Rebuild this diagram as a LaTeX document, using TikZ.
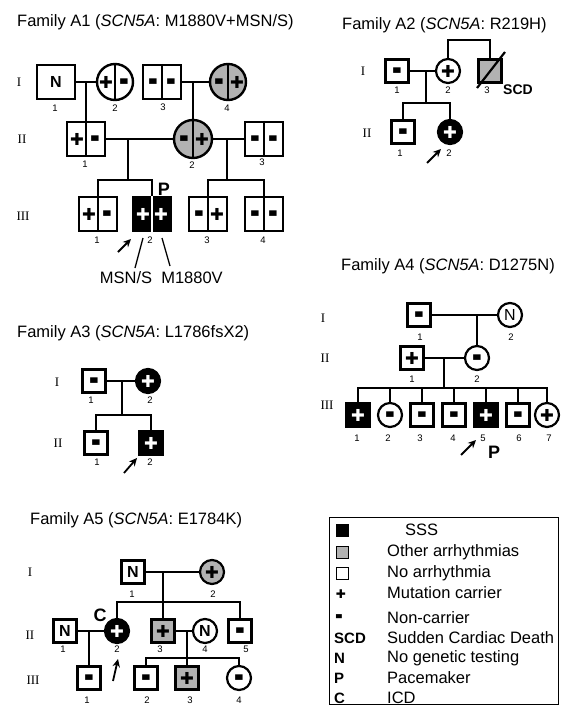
\documentclass[tikz,border=0pt]{standalone}
\usepackage{fontspec}
\setmainfont{Liberation Sans}
\newfontfamily\serifgen{Liberation Serif}
\newfontfamily\djv{DejaVu Sans}
\usepackage{graphicx}
\usetikzlibrary{arrows.meta,calc}
\newcommand\pls{{\djv\fontsize{16.5}{16.5}\selectfont ✚}}
\newcommand\mns{{\djv\fontsize{15}{15}\selectfont\scalebox{0.65}[1]{▬}}}
\newcommand\pdsplit[4]{%
  \draw[line width=1.3pt,#4] (#1.north) -- (#1.south);
  \node[sgn,text=#4] (#1L) at ([xshift=-9pt]#1.center) {#2};
  \node[sgn,text=#4] (#1R) at ([xshift=9pt]#1.center) {#3};}
\begin{document}
\begin{tikzpicture}[x=1pt,y=-1pt,
  ln/.style={line width=2.4pt},
  bsq/.style={draw,line width=2.4pt,rectangle,minimum width=38pt,minimum height=34pt,inner sep=0pt},
  bci/.style={draw,line width=2.4pt,circle,minimum size=36pt,inner sep=0pt},
  ssq/.style={draw,line width=2.2pt,rectangle,minimum size=23pt,inner sep=0pt},
  sci/.style={draw,line width=2.2pt,circle,minimum size=24pt,inner sep=0pt},
  aff/.style={fill=black,text=white},
  oth/.style={fill=black!30},
  sgn/.style={inner sep=0pt},
  num/.style={font=\fontsize{9.5}{9.5}\selectfont,inner sep=0pt},
  gen/.style={font=\serifgen\fontsize{13}{13}\selectfont,inner sep=0pt},
  ttl/.style={font=\fontsize{16.5}{16.5}\selectfont,inner sep=0pt,anchor=west},
  big/.style={font=\bfseries\fontsize{18}{18}\selectfont,inner sep=0pt},
  nfont/.style={font=\bfseries\fontsize{16}{16}\selectfont},
  arr/.style={line width=1.8pt,-{Stealth[length=8pt,width=7.5pt]}},
  thn/.style={line width=1.3pt},
  lgt/.style={font=\fontsize{16.5}{16.5}\selectfont,inner sep=0pt,anchor=west},
  lgb/.style={font=\bfseries\fontsize{15}{15}\selectfont,inner sep=0pt,anchor=west}
]
\useasboundingbox (0,0) rectangle (560,706);

% ================= Family A1 =================
\node[ttl] (a1t) at (17,22) {Family A1 (\textit{SCN5A}: M1880V+MSN/S)};
\node[gen] (a1g1) at (19,82) {I};
\node[gen] (a1g2) at (22,139) {II};
\node[gen] (a1g3) at (23,216) {III};

\node[bsq,nfont] (a1i1) at (56,82) {N};
\node[bci] (a1i2) at (115,82) {}; \pdsplit{a1i2}{\pls}{\mns}{black}
\node[bsq] (a1i3) at (162,82) {}; \pdsplit{a1i3}{\mns}{\mns}{black}
\node[bci,oth] (a1i4) at (228,82) {}; \pdsplit{a1i4}{\mns}{\pls}{black}
\node[num] (a1n1) at (55,108) {1};
\node[num] (a1n2) at (115,108) {2};
\node[num] (a1n3) at (163,107) {3};
\node[num] (a1n4) at (227,108) {4};
\draw[ln] (a1i1) -- (a1i2);
\draw[ln] (a1i3) -- (a1i4);

\node[bsq] (a1ii1) at (86,139) {}; \pdsplit{a1ii1}{\pls}{\mns}{black}
\node[bci,oth,minimum size=38pt] (a1ii2) at (193,139) {}; \pdsplit{a1ii2}{\mns}{\pls}{black}
\node[bsq] (a1ii3) at (264,139) {}; \pdsplit{a1ii3}{\mns}{\mns}{black}
\node[num] (a1n5) at (85,164) {1};
\node[num] (a1n6) at (192,165) {2};
\node[num] (a1n7) at (262,162) {3};
\draw[ln] (a1ii1.north) -- (a1ii1.north |- a1i1.east);
\draw[ln] (a1ii2.north) -- (a1ii2.north |- a1i3.east);
\draw[ln] (a1ii1) -- (a1ii2);
\draw[ln] (a1ii2) -- (a1ii3);

\node[bsq] (a1iii1) at (98,214) {}; \pdsplit{a1iii1}{\pls}{\mns}{black}
\node[bsq,aff] (a1iii2) at (152,214) {}; \pdsplit{a1iii2}{\pls}{\pls}{white}
\node[bsq] (a1iii3) at (208,214) {}; \pdsplit{a1iii3}{\mns}{\pls}{black}
\node[bsq] (a1iii4) at (264,214) {}; \pdsplit{a1iii4}{\mns}{\mns}{black}
\node[num] (a1n8) at (97,240) {1};
\node[num] (a1n9) at (150,240) {2};
\node[num] (a1n10) at (207,240) {3};
\node[num] (a1n11) at (263,240) {4};
\coordinate (a1c1) at (128,180);
\coordinate (a1c2) at (227,180);
\draw[ln] (a1c1) -- (a1c1 |- a1ii1.east);
\draw[ln] (a1c2) -- (a1c2 |- a1ii3.west);
\draw[ln] (a1iii1.north) -- (a1iii1.north |- a1c1) -- (a1iii2.north |- a1c1) -- (a1iii2.north);
\draw[ln] (a1iii3.north) -- (a1iii3.north |- a1c2) -- (a1iii4.north |- a1c2) -- (a1iii4.north);
\node[big] (a1p) at (164,189) {P};
\coordinate (a1a0) at (118,252);
\coordinate (a1a1) at (131,239);
\draw[arr] (a1a0) -- (a1a1);
\node[font=\fontsize{16.5}{16.5}\selectfont,inner sep=0pt] (a1msn) at (126,278) {MSN/S};
\node[font=\fontsize{16.5}{16.5}\selectfont,inner sep=0pt] (a1mv) at (192,278) {M1880V};
\coordinate (a1l1) at (143,238);
\coordinate (a1l2) at (162,238);
\draw[thn] (a1l1) -- (135,268);
\draw[thn] (a1l2) -- (170,266);

% ================= Family A2 =================
\node[ttl] (a2t) at (342,25) {Family A2 (\textit{SCN5A}: R219H)};
\node[gen] (a2g1) at (363,71) {I};
\node[gen] (a2g2) at (367,133) {II};
\node[ssq] (a2i1) at (397,71) {\mns};
\node[sci] (a2i2) at (448,71) {\pls};
\node[ssq,oth] (a2i3) at (490,71) {};
\draw[line width=2.2pt] ([shift={(-13,17)}]a2i3.center) -- ([shift={(15,-19)}]a2i3.center);
\draw[ln] (a2i1) -- (a2i2);
\draw[ln] (a2i2.north) -- ++(0,-18) -| (a2i3.north);
\node[num] (a2n1) at (397,90) {1};
\node[num] (a2n2) at (448,90) {2};
\node[num] (a2n3) at (487,90) {3};
\node[font=\bfseries\fontsize{14}{14}\selectfont,inner sep=0pt] (a2scd) at (518,90) {SCD};
\node[ssq] (a2ii1) at (403,132) {\mns};
\node[sci,aff] (a2ii2) at (450,132) {\pls};
\coordinate (a2c1) at (426,103);
\draw[ln] (a2c1) -- (a2c1 |- a2i1.east);
\draw[ln] (a2ii1.north) -- (a2ii1.north |- a2c1) -- (a2ii2.north |- a2c1) -- (a2ii2.north);
\node[num] (a2n4) at (400,153) {1};
\node[num] (a2n5) at (449,153) {2};
\coordinate (a2a0) at (427,163);
\coordinate (a2a1) at (441,149);
\draw[arr] (a2a0) -- (a2a1);

% ================= Family A3 =================
\node[ttl] (a3t) at (17,333) {Family A3 (\textit{SCN5A}: L1786fsX2)};
\node[gen] (a3g1) at (57,382) {I};
\node[gen] (a3g2) at (58,443) {II};
\node[ssq] (a3i1) at (94,381) {\mns};
\node[sci,aff] (a3i2) at (148,381) {\pls};
\draw[ln] (a3i1) -- (a3i2);
\node[num] (a3n1) at (91,400) {1};
\node[num] (a3n2) at (150,400) {2};
\node[ssq] (a3ii1) at (96,443) {\mns};
\node[ssq,aff] (a3ii2) at (151,443) {\pls};
\coordinate (a3c1) at (122,415);
\draw[ln] (a3c1) -- (a3c1 |- a3i1.east);
\draw[ln] (a3ii1.north) -- (a3ii1.north |- a3c1) -- (a3ii2.north |- a3c1) -- (a3ii2.north);
\node[num] (a3n3) at (97,462) {1};
\node[num] (a3n4) at (150,462) {2};
\coordinate (a3a0) at (124,473);
\coordinate (a3a1) at (137,458);
\draw[arr] (a3a0) -- (a3a1);

% ================= Family A4 =================
\node[ttl] (a4t) at (341,266) {Family A4 (\textit{SCN5A}: D1275N)};
\node[gen] (a4g1) at (323,318) {I};
\node[gen] (a4g2) at (325,358) {II};
\node[gen] (a4g3) at (327,405) {III};
\node[ssq] (a4i1) at (419,315) {\mns};
\node[sci,font=\fontsize{16}{16}\selectfont] (a4i2) at (510,315) {N};
\draw[ln] (a4i1) -- (a4i2);
\node[num] (a4n1) at (420,337) {1};
\node[num] (a4n2) at (511,337) {2};
\node[ssq] (a4ii1) at (412,358) {\pls};
\node[sci] (a4ii2) at (477,358) {\mns};
\draw[ln] (a4ii1) -- (a4ii2);
\draw[ln] (a4ii2.north) -- (a4ii2.north |- a4i1.east);
\node[num] (a4n3) at (412,379) {1};
\node[num] (a4n4) at (477,379) {2};
\coordinate (a4c1) at (444,388);
\draw[ln] (a4c1) -- (a4c1 |- a4ii1.east);
\node[ssq,aff] (a4iii1) at (358,415) {\pls};
\node[sci] (a4iii2) at (390,415) {\mns};
\node[ssq] (a4iii3) at (422,415) {\mns};
\node[ssq] (a4iii4) at (454,415) {\mns};
\node[ssq,aff] (a4iii5) at (486,415) {\pls};
\node[ssq] (a4iii6) at (518,415) {\mns};
\node[sci] (a4iii7) at (547,415) {\pls};
\draw[ln] (a4iii1.north) -- (a4iii1.north |- a4c1) -- (a4iii7.north |- a4c1) -- (a4iii7.north);
\foreach \k in {2,...,6} {\draw[ln] (a4iii\k.north) -- (a4iii\k.north |- a4c1);}
\node[num] (a4n5) at (357,438) {1};
\node[num] (a4n6) at (388,438) {2};
\node[num] (a4n7) at (420,438) {3};
\node[num] (a4n8) at (453,438) {4};
\node[num] (a4n9) at (483,438) {5};
\node[num] (a4n10) at (519,438) {6};
\node[num] (a4n11) at (549,438) {7};
\coordinate (a4a0) at (461,455);
\coordinate (a4a1) at (476,440);
\draw[arr] (a4a0) -- (a4a1);
\node[big] (a4p) at (494,452) {P};

% ================= Family A5 =================
\node[ttl] (a5t) at (30,520) {Family A5 (\textit{SCN5A}: E1784K)};
\node[gen] (a5g1) at (30,572) {I};
\node[gen] (a5g2) at (30,635) {II};
\node[gen] (a5g3) at (33,680) {III};
\node[ssq,nfont] (a5i1) at (133,572) {N};
\node[sci,oth] (a5i2) at (212,572) {\pls};
\draw[ln] (a5i1) -- (a5i2);
\node[num] (a5n1) at (132,594) {1};
\node[num] (a5n2) at (213,594) {2};
\node[ssq,nfont] (a5ii1) at (65,631) {N};
\node[sci,aff] (a5ii2) at (117,631) {\pls};
\node[ssq,oth] (a5ii3) at (163,631) {\pls};
\node[sci,nfont] (a5ii4) at (205,631) {N};
\node[ssq] (a5ii5) at (240,631) {\mns};
\draw[ln] (a5ii1) -- (a5ii2);
\draw[ln] (a5ii3) -- (a5ii4);
\coordinate (a5c1) at (163,602);
\draw[ln] (a5ii3.north) -- (a5ii3.north |- a5i1.east);
\draw[ln] (a5ii2.north) -- (a5ii2.north |- a5c1) -- (a5ii5.north |- a5c1) -- (a5ii5.north);
\node[big] (a5cc) at (100,615) {C};
\node[num] (a5n3) at (63,649) {1};
\node[num] (a5n4) at (117,649) {2};
\node[num] (a5n5) at (160,649) {3};
\node[num] (a5n6) at (205,649) {4};
\node[num] (a5n7) at (246,649) {5};
\node[ssq] (a5iii1) at (89,678) {\mns};
\node[ssq] (a5iii2) at (146,678) {\mns};
\node[ssq,oth] (a5iii3) at (187,678) {\pls};
\node[sci] (a5iii4) at (239,678) {\mns};
\draw[ln] (a5iii1.north) -- (a5iii1.north |- a5ii1.east);
\coordinate (a5c2) at (187,658);
\draw[ln] (a5iii3.north) -- (a5iii3.north |- a5ii3.east);
\draw[ln] (a5iii2.north) -- (a5iii2.north |- a5c2) -- (a5iii4.north |- a5c2) -- (a5iii4.north);
\node[num] (a5n8) at (87,700) {1};
\node[num] (a5n9) at (147,700) {2};
\node[num] (a5n10) at (190,700) {3};
\node[num] (a5n11) at (239,700) {4};
\coordinate (a5a0) at (113,681);
\coordinate (a5a1) at (118,659);
\draw[arr] (a5a0) -- (a5a1);

% ================= Legend =================
\node[draw,line width=1pt,minimum width=229pt,minimum height=187pt,inner sep=0pt,anchor=north west] (lgbox) at (329,517) {};
\node[fill=black,minimum size=13pt,inner sep=0pt] (lgs1) at (342,530) {};
\node[draw,line width=1pt,fill=black!30,minimum size=12pt,inner sep=0pt] (lgs2) at (342,552) {};
\node[draw,line width=1pt,minimum size=12pt,inner sep=0pt] (lgs3) at (342,573) {};
\node[sgn] (lgs4) at (341,594) {{\djv\fontsize{12}{12}\selectfont ✚}};
\node[sgn] (lgs5) at (339,617) {{\djv\fontsize{11}{11}\selectfont\scalebox{0.7}[1]{▬}}};
\node[lgb] (lgs6) at (334,638) {SCD};
\node[lgb] (lgs7) at (334,658) {N};
\node[lgb] (lgs8) at (334,678) {P};
\node[lgb] (lgs9) at (334,698) {C};
\node[lgt] (lgt1) at (405,530) {SSS};
\node[lgt] (lgt2) at (387,552) {Other arrhythmias};
\node[lgt] (lgt3) at (387,573) {No arrhythmia};
\node[lgt] (lgt4) at (387,593) {Mutation carrier};
\node[lgt] (lgt5) at (387,618) {Non-carrier};
\node[lgt] (lgt6) at (387,638) {Sudden Cardiac Death};
\node[lgt] (lgt7) at (387,658) {No genetic testing};
\node[lgt] (lgt8) at (387,678) {Pacemaker};
\node[lgt] (lgt9) at (387,698) {ICD};
\end{tikzpicture}
\end{document}
